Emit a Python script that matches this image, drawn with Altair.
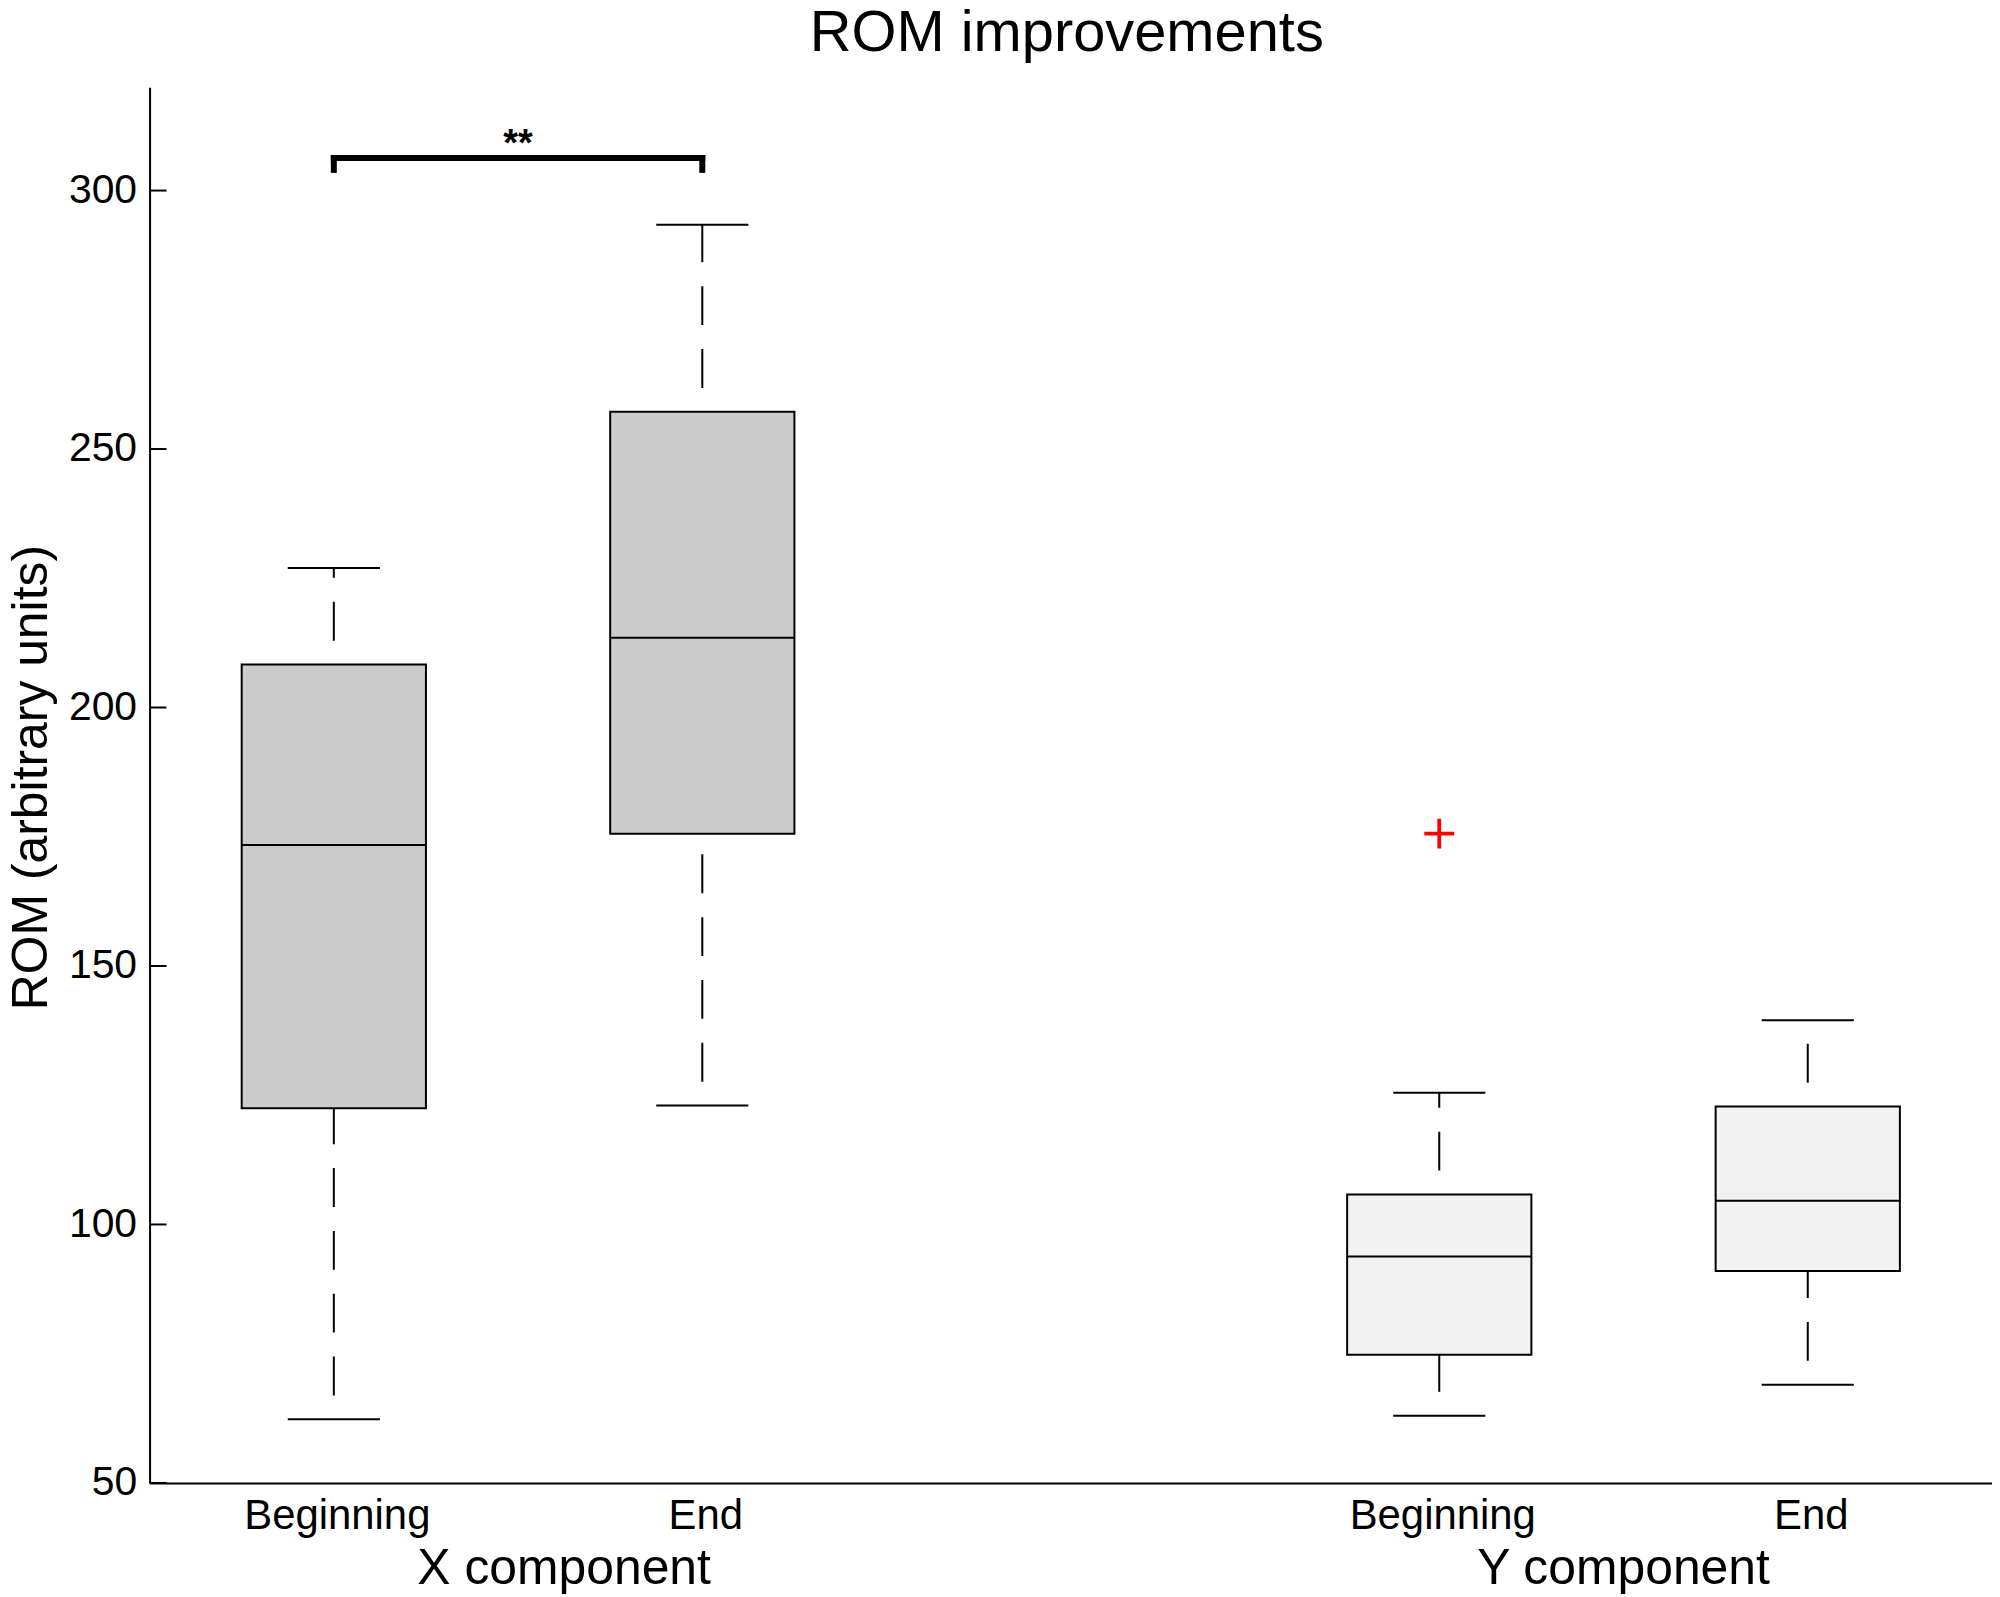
import altair as alt
import pandas as pd

# ---- data ----
conditions = ["Beginning", "End", "Beginning", "End"]
positions = [1, 2, 4, 5]
components = ["X component", "X component", "Y component", "Y component"]
whisker_low = [62.3, 123.0, 63.0, 69.0]
q1 = [122.5, 175.6, 74.8, 91.0]
median = [173.4, 213.5, 93.8, 104.6]
q3 = [208.3, 257.2, 105.8, 122.8]
whisker_high = [227.0, 293.4, 125.5, 139.5]
fills = ["#cccccc", "#cccccc", "#f2f2f2", "#f2f2f2"]

outlier_pos = [4]
outlier_val = [175.6]

group_labels = ["X component", "Y component"]
group_label_pos = [1.625, 4.5]

y_tick_values = [50, 100, 150, 200, 250, 300]

sig_from, sig_to = 1, 2
sig_level, sig_drop = 306.3, 304.0
sig_text = "**"

chart_title = "ROM improvements"

FONT = "Liberation Sans"
W, H = 1848, 1400

# ---- tables ----
boxes = pd.DataFrame({
    "cond": conditions, "pos": positions, "comp": components,
    "lo": whisker_low, "q1": q1, "med": median, "q3": q3, "hi": whisker_high,
    "fill": fills,
})
outliers = pd.DataFrame({"pos": outlier_pos, "val": outlier_val})
glabels = pd.DataFrame({"label": group_labels, "gpos": group_label_pos})
yticks = pd.DataFrame({"t": y_tick_values})
bracket = pd.DataFrame({
    "x": [sig_from, sig_from, sig_to],
    "x2": [sig_to, sig_from, sig_to],
    "y": [sig_level, sig_drop, sig_drop],
    "y2": [sig_level, sig_level, sig_level],
})
sig = pd.DataFrame({"x": [(sig_from + sig_to) / 2], "y": [sig_level], "t": [sig_text]})
ttl = pd.DataFrame({"t": [chart_title]})

# ---- scales / axes ----
xs = alt.Scale(domain=[0.5, 5.5], nice=False, zero=False)
ys = alt.Scale(domain=[50, 320], nice=False, zero=False)

label_expr = ""
for p, c in zip(positions, conditions):
    label_expr += f"datum.value == {p} ? '{c}' : "
label_expr += "''"

xaxis = alt.Axis(
    title=None, values=positions, labelExpr=label_expr, ticks=False, tickSize=0,
    grid=False, domainColor="black", domainWidth=2, labelColor="black",
    labelFont=FONT, labelFontSize=42, labelPadding=13, labelBaseline="top",
    labelFlush=False, labelOverlap=False, labelLimit=0, labelOffset=3,
)
yaxis = alt.Axis(
    title="ROM (arbitrary units)", values=y_tick_values, ticks=False, tickSize=0,
    grid=False, domainColor="black", domainWidth=2, labelColor="black",
    labelFont=FONT, labelFontSize=41, labelPadding=13, labelFlush=False,
    labelOverlap=False, labelLimit=0, titleFont=FONT, titleFontSize=50,
    titleFontWeight="normal", titleColor="black", titleAngle=270, titleAlign="center",
    titleBaseline="alphabetic", titleX=-103, titleY=692, titleLimit=0,
)


def X(f):
    return alt.X(f, type="quantitative", scale=xs, axis=xaxis)


def Y(f):
    return alt.Y(f, type="quantitative", scale=ys, axis=yaxis)


base = alt.Chart(boxes)

dash = dict(strokeDash=[39, 24], strokeDashOffset=39, strokeWidth=2, color="black")
whisk_low = base.mark_rule(**dash).encode(x=X("pos"), y=Y("lo"), y2="q1")
whisk_high = base.mark_rule(**dash).encode(x=X("pos"), y=Y("q3"), y2="hi")

caps_calc = base.transform_calculate(cl="datum.pos - 0.125", cr="datum.pos + 0.125")
cap_low = caps_calc.mark_rule(color="black", strokeWidth=2).encode(x=X("cl"), x2="cr", y=Y("lo"))
cap_high = caps_calc.mark_rule(color="black", strokeWidth=2).encode(x=X("cl"), x2="cr", y=Y("hi"))

box_calc = base.transform_calculate(bl="datum.pos - 0.25", br="datum.pos + 0.25")
box = box_calc.mark_rect(stroke="black", strokeWidth=2).encode(
    x=X("bl"), x2="br", y=Y("q1"), y2="q3", fill=alt.Fill("fill:N", scale=None)
)
med = box_calc.mark_rule(color="black", strokeWidth=2).encode(x=X("bl"), x2="br", y=Y("med"))

out = alt.Chart(outliers).mark_point(
    shape="M-1,0L1,0M0,-1L0,1", size=900, filled=False, stroke="red", strokeWidth=3.8, opacity=1
).encode(x=X("pos"), y=Y("val"))

br = alt.Chart(bracket).mark_rule(color="black", strokeWidth=6, strokeCap="square").encode(
    x=X("x"), x2="x2", y=Y("y"), y2="y2"
)
sigt = alt.Chart(sig).mark_text(
    font=FONT, fontSize=38, fontWeight="bold", baseline="alphabetic", align="center", dy=-2, color="black"
).encode(x=X("x"), y=Y("y"), text="t:N")

ticks = alt.Chart(yticks).mark_rule(color="black", strokeWidth=2).encode(
    y=Y("t"), x=alt.value(0), x2=alt.value(17)
)

gl = alt.Chart(glabels).mark_text(
    font=FONT, fontSize=50, baseline="alphabetic", align="center", color="black"
).encode(x=X("gpos"), y=alt.value(1501), text="label:N")

title_mark = alt.Chart(ttl).mark_text(
    font=FONT, fontSize=58, baseline="alphabetic", align="center", color="black"
).encode(x=alt.value(920), y=alt.value(-36), text="t:N")

chart = alt.layer(
    whisk_low, whisk_high, cap_low, cap_high, box, med, out, br, sigt, ticks, gl, title_mark
).properties(
    width=W, height=H,
    background="white",
    autosize=alt.AutoSizeParams(type="none"),
    padding={"left": 142, "top": 77, "right": 0, "bottom": 112},
).configure_view(stroke=None)

chart.save("out.html", embed_options={"renderer": "svg", "actions": False})
